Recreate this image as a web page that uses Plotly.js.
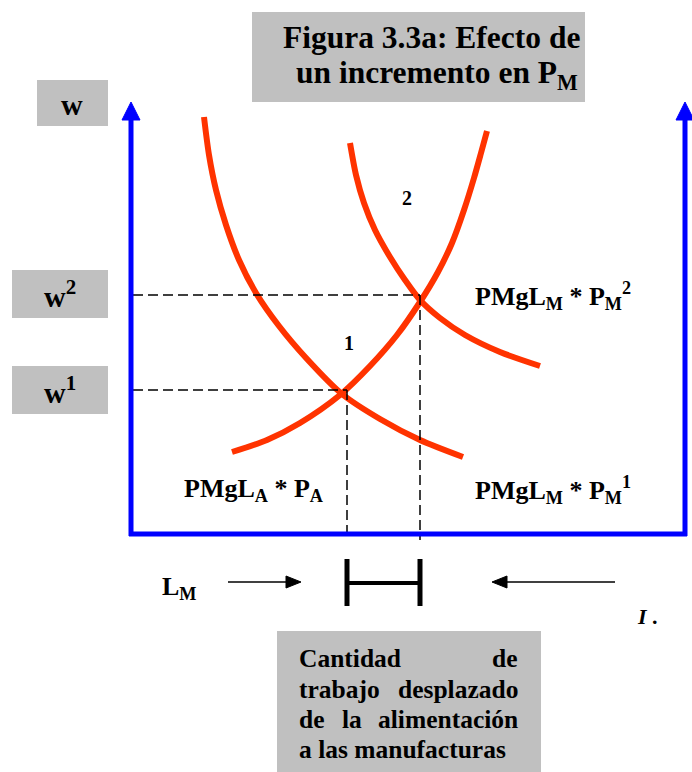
<!DOCTYPE html>
<html><head><meta charset="utf-8">
<script src="https://cdn.plot.ly/plotly-3.0.1.min.js"></script>
<style>html,body{margin:0;padding:0;background:#fff}#chart{width:692px;height:772px}</style>
</head><body><div id="chart"></div>
<script>
// Curve data in the drawing frame (L to the right, w downward)
const curveM1X = [204,209,216,226,239,256,279,307,342,380,420,463];
const curveM1Y = [117,155,190,225,260,293,326,359,394,419,440,457];
const curveM2X = [350,356,364,375,390,405,420,440,465,500,540];
const curveM2Y = [143,175,203,230,257,280,300,318,335,352,366];
const curveAX = [232,267,300,340,370,397,420,438,452,464,474,481,487];
const curveAY = [452,440,423,395,366,335,302,272,243,210,178,153,131];
const eqL = [347,420];
const eqW = [390,295];
const wLabels = ['w','w<sup>2</sup>','w<sup>1</sup>'];
const curveLabels = ['PMgL<sub>M</sub> * P<sub>M</sub><sup>2</sup>','PMgL<sub>A</sub> * P<sub>A</sub>','PMgL<sub>M</sub> * P<sub>M</sub><sup>1</sup>'];
const titleLines = ['Figura 3.3a: Efecto de','un incremento en P<sub>M</sub>'];

const RED = '#ff3300', BLUE = '#0000ff', GRAY = '#c0c0c0';
const SERIF = 'Liberation Serif, Times New Roman, serif';

const curve = (x,y)=>({x:x,y:y,mode:'lines',type:'scatter',line:{color:RED,width:6,shape:'spline',smoothing:0.8},hoverinfo:'skip',showlegend:false});
const data = [curve(curveM1X,curveM1Y), curve(curveM2X,curveM2Y), curve(curveAX,curveAY)];

const axisLeft = 131, axisRight = 685, axisBottom = 534, axisTop = 118;
const shapes = [];
const rect = (x0,y0,x1,y1)=>shapes.push({type:'rect',xref:'x',yref:'y',x0:x0,x1:x1,y0:y0,y1:y1,fillcolor:GRAY,line:{width:0},layer:'below'});
rect(252,12,585,102);
rect(37,80,108,126);
rect(12,270,108,318);
rect(12,366,108,414);
rect(277,631,541,772);

const ln = (x0,y0,x1,y1,color,width,dash)=>shapes.push({type:'line',xref:'x',yref:'y',x0:x0,y0:y0,x1:x1,y1:y1,line:{color:color,width:width,dash:dash||'solid'}});
// dashed guides
ln(133,eqW[0],eqL[0],eqW[0],'#000',1.5,'10px,5px');
ln(133,eqW[1],eqL[1],eqW[1],'#000',1.5,'10px,5px');
ln(eqL[0],eqW[0],eqL[0],540,'#000',1.5,'10px,5px');
ln(eqL[1],eqW[1],eqL[1],540,'#000',1.5,'10px,5px');
// axes
ln(axisLeft,axisBottom+2,axisLeft,axisTop,BLUE,5);
ln(axisRight,axisBottom+2,axisRight,axisTop,BLUE,5);
ln(axisLeft-2,axisBottom,axisRight+2,axisBottom,BLUE,5);
const tri = (p)=>shapes.push({type:'path',xref:'x',yref:'y',path:p,fillcolor:BLUE,line:{color:BLUE,width:1}});
tri(`M ${axisLeft-9},120 L ${axisLeft},102 L ${axisLeft+9},120 Z`);
tri(`M ${axisRight-9},120 L ${axisRight},102 L ${axisRight+9},120 Z`);
// bracket
ln(eqL[0],559,eqL[0],606,'#000',5);
ln(eqL[1],559,eqL[1],606,'#000',5);
ln(eqL[0],583,eqL[1],583,'#000',4);
// small arrows
ln(228,582,290,582,'#000',1.5);
shapes.push({type:'path',xref:'x',yref:'y',path:'M 286,576 L 301,582 L 286,588 Z',fillcolor:'#000',line:{color:'#000',width:1}});
ln(503,582,615,582,'#000',1.5);
shapes.push({type:'path',xref:'x',yref:'y',path:'M 507,576 L 492,582 L 507,588 Z',fillcolor:'#000',line:{color:'#000',width:1}});

const ann = [];
const txt = (x,y,t,size,anchor,extra)=>ann.push(Object.assign({x:x,y:y,xref:'x',yref:'y',text:t,showarrow:false,xanchor:anchor||'center',yanchor:'middle',font:{family:SERIF,size:size,color:'#000',weight:'bold'}},extra||{}));
txt(431,37,titleLines[0],31.5);
txt(437,75,titleLines[1],31.5);
txt(72,104,wLabels[0],30);
txt(60,294,wLabels[1],30);
txt(60,390,wLabels[2],30);
txt(473,296,curveLabels[0],26,'left');
txt(182,490,curveLabels[1],26,'left');
txt(473,490,curveLabels[2],26,'left');
txt(349,343,'1',20);
txt(407,198,'2',20);
txt(160,588,'L<sub>M</sub>',26,'left');
txt(647,616,'<i>I</i> .',22);
// justified text box
const BS = 25.5;
txt(297,658,'Cantidad',BS,'left');
txt(520,658,'de',BS,'right');
txt(297,689,'trabajo',BS,'left');
txt(520,689,'desplazado',BS,'right');
txt(297,719,'de',BS,'left');
txt(352,719,'la',BS,'center');
txt(520,719,'alimentación',BS,'right');
txt(297,749,'a las manufacturas',BS,'left');

const layout = {
  width:692,height:772,margin:{l:0,r:0,t:0,b:0},
  paper_bgcolor:'#fff',plot_bgcolor:'#fff',
  xaxis:{range:[0,692],visible:false,fixedrange:true},
  yaxis:{range:[772,0],visible:false,fixedrange:true},
  shapes:shapes,annotations:ann,showlegend:false
};
Plotly.newPlot('chart',data,layout,{staticPlot:true,displayModeBar:false});
</script></body></html>
